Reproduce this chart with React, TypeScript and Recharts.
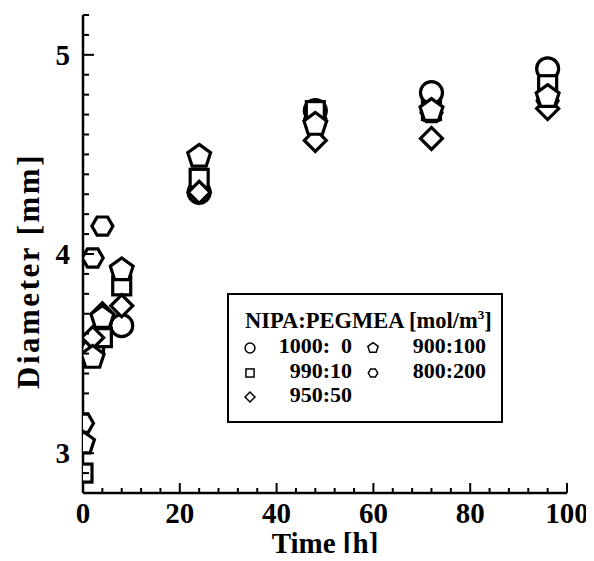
import React from "react";
import { ScatterChart, Scatter, XAxis, YAxis, Legend } from "recharts";

// sampling times [h]
const times = [0, 2, 4, 8, 24, 48, 72, 96];

// diameter [mm] per composition, null = no marker visible
const d1000 = [null, 3.52, null, 3.64, 4.31, 4.72, 4.81, 4.93];
const d990 = [2.9, null, 3.58, 3.84, 4.38, 4.72, 4.72, 4.85];
const d950 = [null, 3.58, 3.7, 3.74, 4.31, 4.57, 4.58, 4.73];
const d900 = [3.05, 3.48, 3.68, 3.92, 4.49, 4.65, 4.72, 4.79];
const d800 = [3.15, 3.98, 4.14, null, null, 4.68, 4.71, 4.77];

const xMajor = [0, 20, 40, 60, 80, 100];
const yMajor = [3, 4, 5];
const xTicks = Array.from({ length: 26 }, (_, i) => i * 4);
const yTicks = Array.from({ length: 25 }, (_, i) => Math.round((2.8 + i * 0.1) * 10) / 10);

const FONT = "'Liberation Serif', 'Times New Roman', serif";

const toPoints = (vals: (number | null)[]) =>
  vals.flatMap((v, i) => (v == null ? [] : [{ x: times[i], y: v }]));

type Kind = "circle" | "square" | "diamond" | "pentagon" | "hexagon";

const polygon = (cx: number, cy: number, r: number, n: number, start: number) =>
  Array.from({ length: n }, (_, i) => {
    const a = start + (i * 2 * Math.PI) / n;
    return `${cx + r * Math.cos(a)},${cy + r * Math.sin(a)}`;
  }).join(" ");

const Marker = ({ kind, cx, cy, s = 1, sw = 3.2 }: { kind: Kind; cx: number; cy: number; s?: number; sw?: number }) => {
  const common = { fill: "#fff", stroke: "#000", strokeWidth: sw };
  if (kind === "circle") return <circle cx={cx} cy={cy} r={11 * s} {...common} />;
  if (kind === "square") return <rect x={cx - 9 * s} y={cy - 9 * s} width={18 * s} height={18 * s} {...common} />;
  if (kind === "diamond") return <polygon points={polygon(cx, cy, 11 * s, 4, 0)} {...common} />;
  if (kind === "pentagon") return <polygon points={polygon(cx, cy, 12 * s, 5, -Math.PI / 2)} {...common} />;
  return <polygon points={polygon(cx, cy, 10.5 * s, 6, 0)} {...common} />;
};

const shapeOf = (kind: Kind) => (props: any) => <Marker kind={kind} cx={props.cx} cy={props.cy} />;

const BottomTick = (props: any) => {
  const { x, y, payload } = props;
  const major = xMajor.includes(payload.value);
  return (
    <g>
      <line x1={x} x2={x} y1={y} y2={y - (major ? 10 : 5)} stroke="#000" strokeWidth={2} />
      {major && (
        <text x={x} y={y + 30} textAnchor="middle" fontFamily={FONT} fontWeight="bold" fontSize={29} fill="#000">
          {payload.value}
        </text>
      )}
    </g>
  );
};

const TopTick = (props: any) => {
  const { x, y, payload } = props;
  const major = xMajor.includes(payload.value);
  return <line x1={x} x2={x} y1={y} y2={y + (major ? 10 : 5)} stroke="#000" strokeWidth={2} />;
};

const LeftTick = (props: any) => {
  const { x, y, payload } = props;
  const major = yMajor.includes(payload.value);
  return (
    <g>
      <line x1={x} x2={x + (major ? 11 : 6)} y1={y} y2={y} stroke="#000" strokeWidth={2} />
      {major && (
        <text x={x - 13} y={y + 10} textAnchor="end" fontFamily={FONT} fontWeight="bold" fontSize={29} fill="#000">
          {payload.value}
        </text>
      )}
    </g>
  );
};

const RightTick = (props: any) => {
  const { x, y, payload } = props;
  const major = yMajor.includes(payload.value);
  return <line x1={x} x2={x - (major ? 11 : 6)} y1={y} y2={y} stroke="#000" strokeWidth={2} />;
};

const legendRows: { kind: Kind; label: string }[][] = [
  [
    { kind: "circle", label: "1000:  0" },
    { kind: "pentagon", label: "900:100" },
  ],
  [
    { kind: "square", label: "990:10" },
    { kind: "hexagon", label: "800:200" },
  ],
  [{ kind: "diamond", label: "950:50" }],
];

const LegendIcon = ({ kind }: { kind: Kind }) => (
  <svg width={14} height={14} style={{ display: "block" }}>
    <Marker kind={kind} cx={7} cy={7} s={0.45} sw={1.5} />
  </svg>
);

const LegendBox = () => (
  <div
    style={{
      border: "2px solid #000",
      background: "#fff",
      width: 272,
      height: 126,
      fontFamily: FONT,
      fontWeight: "bold",
      fontSize: 22,
      color: "#000",
      position: "relative",
    }}
  >
    <div style={{ position: "absolute", left: 16, top: 12, whiteSpace: "pre", fontSize: 22.5 }}>
      NIPA:PEGMEA [mol/m<sup style={{ fontSize: 13 }}>3</sup>]
    </div>
    {legendRows.map((row, r) =>
      row.map((item, c) => (
        <React.Fragment key={`${r}-${c}`}>
          <div style={{ position: "absolute", left: c === 0 ? 14 : 137, top: 46 + r * 24.5 }}>
            <LegendIcon kind={item.kind} />
          </div>
          <div
            style={{
              position: "absolute",
              right: c === 0 ? 149 : 15,
              top: 38 + r * 24.5,
              whiteSpace: "pre",
              lineHeight: "26px",
            }}
          >
            {item.label}
          </div>
        </React.Fragment>
      ))
    )}
  </div>
);

export default function App() {
  return (
    <div style={{ width: 586, height: 553, marginBottom: -8 }}>
      <ScatterChart width={586} height={553} margin={{ top: 7, right: 27, left: 0, bottom: 0 }}>
        <XAxis
          dataKey="x"
          type="number"
          domain={[0, 100]}
          ticks={xTicks}
          interval={0}
          tickSize={0}
          tickMargin={0}
          tickLine={false}
          tick={<BottomTick />}
          height={68}
          axisLine={{ stroke: "#000", strokeWidth: 2.5 }}
          allowDataOverflow
          label={(p: any) => {
            const vb = p.viewBox || {};
            return (
              <text
                x={vb.x + vb.width / 2}
                y={vb.y + 60}
                textAnchor="middle"
                fontFamily={FONT}
                fontWeight="bold"
                fontSize={29}
                fill="#000"
              >
                Time [h]
              </text>
            );
          }}
        />
        <XAxis
          xAxisId="top"
          orientation="top"
          type="number"
          domain={[0, 100]}
          ticks={xTicks}
          interval={0}
          tickSize={0}
          tickMargin={0}
          tickLine={false}
          tick={<TopTick />}
          height={0}
          axisLine={{ stroke: "#000", strokeWidth: 2.5 }}
          allowDataOverflow
        />
        <YAxis
          dataKey="y"
          type="number"
          domain={[2.8, 5.2]}
          ticks={yTicks}
          interval={0}
          tickSize={0}
          tickMargin={0}
          tickLine={false}
          tick={<LeftTick />}
          width={75}
          axisLine={{ stroke: "#000", strokeWidth: 2.5 }}
          allowDataOverflow
          label={(p: any) => {
            const vb = p.viewBox || {};
            const cx = 20;
            const cy = vb.y + vb.height / 2 + 17;
            return (
              <text
                x={cx}
                y={cy}
                transform={`rotate(-90 ${cx} ${cy})`}
                textAnchor="middle"
                dominantBaseline="central"
                fontFamily={FONT}
                fontWeight="bold"
                fontSize={31}
                letterSpacing={2.5}
                fill="#000"
              >
                Diameter [mm]
              </text>
            );
          }}
        />
        <YAxis
          yAxisId="right"
          orientation="right"
          type="number"
          domain={[2.8, 5.2]}
          ticks={yTicks}
          interval={0}
          tickSize={0}
          tickMargin={0}
          tickLine={false}
          tick={<RightTick />}
          width={0}
          axisLine={{ stroke: "#000", strokeWidth: 2.5 }}
          allowDataOverflow
        />
        <Legend
          layout="vertical"
          align="center"
          verticalAlign="middle"
          content={() => <LegendBox />}
          wrapperStyle={{ left: 219, top: 285, width: 276 }}
        />
        <Scatter name="800:200" data={toPoints(d800)} shape={shapeOf("hexagon")} isAnimationActive={false} />
        <Scatter name="1000: 0" data={toPoints(d1000)} shape={shapeOf("circle")} isAnimationActive={false} />
        <Scatter name="990:10" data={toPoints(d990)} shape={shapeOf("square")} isAnimationActive={false} />
        <Scatter name="950:50" data={toPoints(d950)} shape={shapeOf("diamond")} isAnimationActive={false} />
        <Scatter name="900:100" data={toPoints(d900)} shape={shapeOf("pentagon")} isAnimationActive={false} />
      </ScatterChart>
    </div>
  );
}
